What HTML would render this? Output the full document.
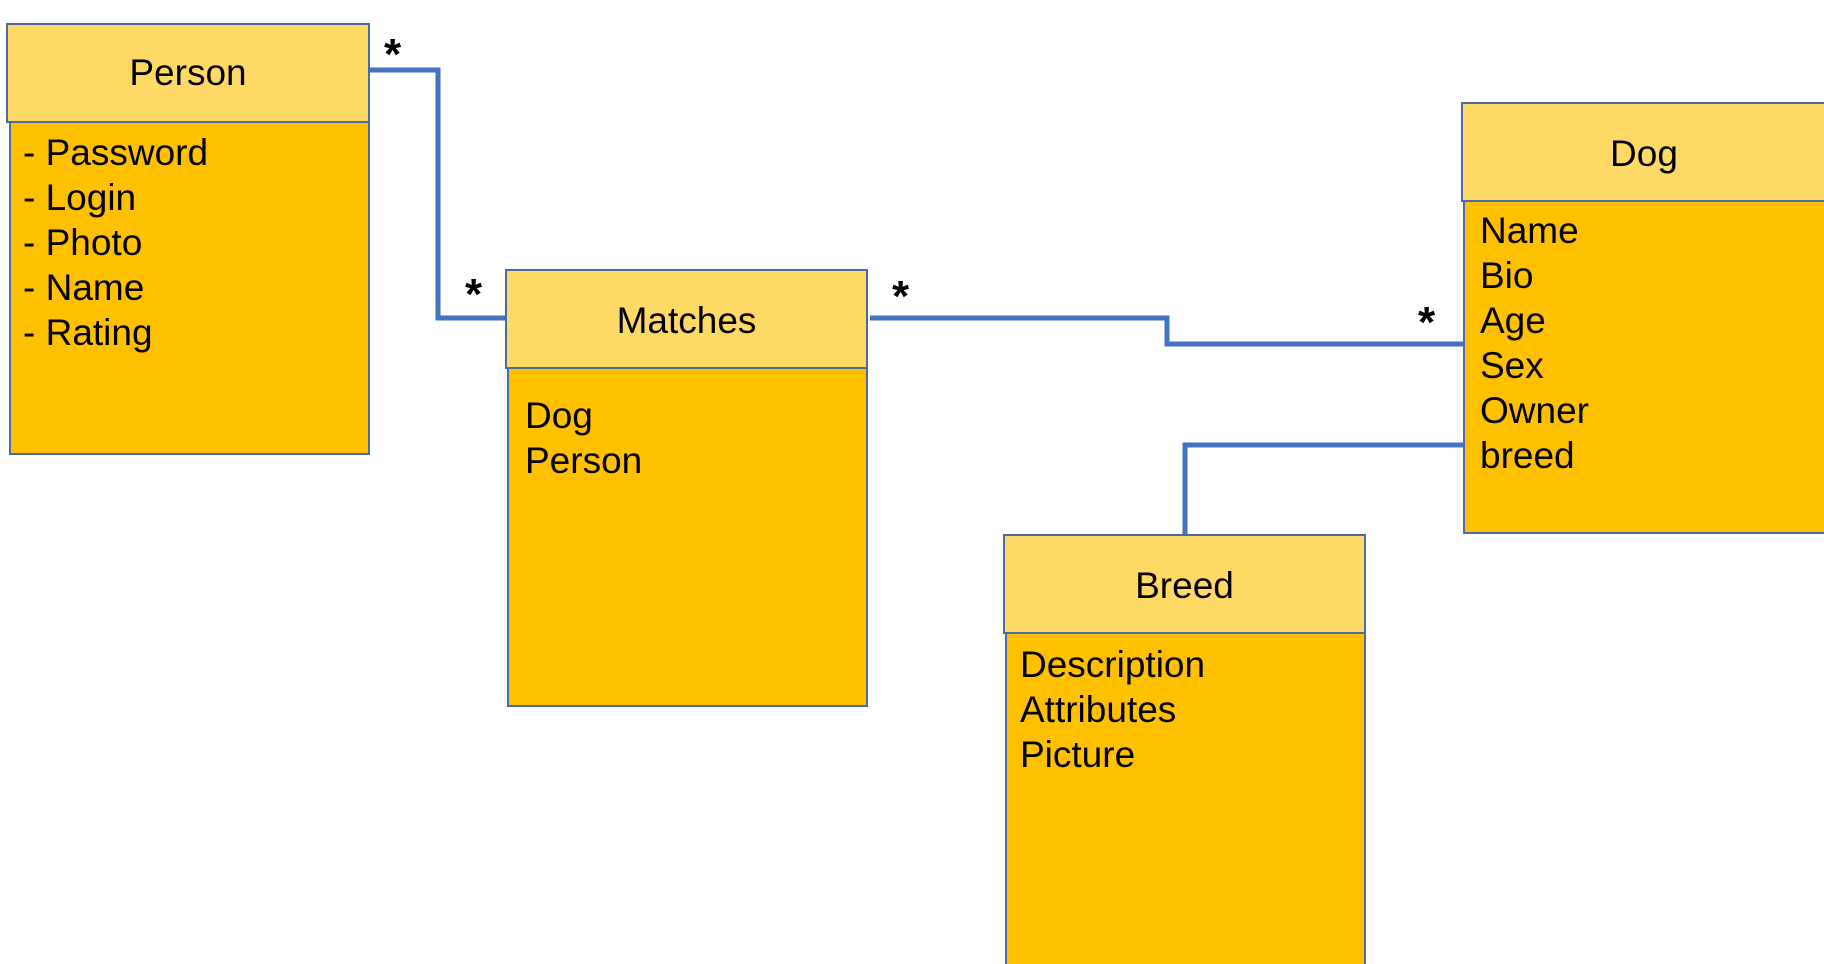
<!DOCTYPE html>
<html style="margin:0;overflow:hidden;width:1824px;height:964px"><head><style>
body{margin:0;width:1824px;height:964px;background:#fff;overflow:hidden;font-family:"Liberation Sans",Arial,sans-serif;color:#000}
#w{position:relative;width:1824px;height:964px;overflow:hidden}
.h,.b{position:absolute;box-sizing:border-box;border:2px solid #4a6ba8}
.h{background:#FFD966;text-align:center;font-size:37px;z-index:2}
.b{background:#FFC000;z-index:1}
.t{position:absolute;font-size:37px;line-height:45px;z-index:3;white-space:pre}
.s{position:absolute;font-size:44px;font-weight:bold;z-index:3}
svg{position:absolute;left:0;top:0;z-index:0}
</style></head><body><div id="w">
<svg width="1824" height="964"><g fill="none" stroke="#4472C4" stroke-width="5">
<polyline points="370,70 438,70 438,318 507,318"/>
<polyline points="870,318 1167,318 1167,344 1463,344"/>
<polyline points="1463,445 1185,445 1185,534"/>
</g></svg>

<div class="h" style="left:6px;top:23px;width:364px;height:100px;line-height:96px">Person</div>
<div class="b" style="left:9px;top:121px;width:361px;height:334px"></div>
<div class="t" style="left:23px;top:130px">- Password
- Login
- Photo
- Name
- Rating</div>

<div class="h" style="left:505px;top:269px;width:363px;height:100px;line-height:100px">Matches</div>
<div class="b" style="left:507px;top:367px;width:361px;height:340px"></div>
<div class="t" style="left:525px;top:393px">Dog
Person</div>

<div class="h" style="left:1461px;top:102px;width:366px;height:100px;line-height:100px">Dog</div>
<div class="b" style="left:1463px;top:200px;width:364px;height:334px"></div>
<div class="t" style="left:1480px;top:208px">Name
Bio
Age
Sex
Owner
breed</div>

<div class="h" style="left:1003px;top:534px;width:363px;height:100px;line-height:100px">Breed</div>
<div class="b" style="left:1005px;top:632px;width:361px;height:360px"></div>
<div class="t" style="left:1020px;top:642px">Description
Attributes
Picture</div>

<div class="s" style="left:384px;top:30px">*</div>
<div class="s" style="left:465px;top:270px">*</div>
<div class="s" style="left:892px;top:272px">*</div>
<div class="s" style="left:1418px;top:298px">*</div>
</div></body></html>
